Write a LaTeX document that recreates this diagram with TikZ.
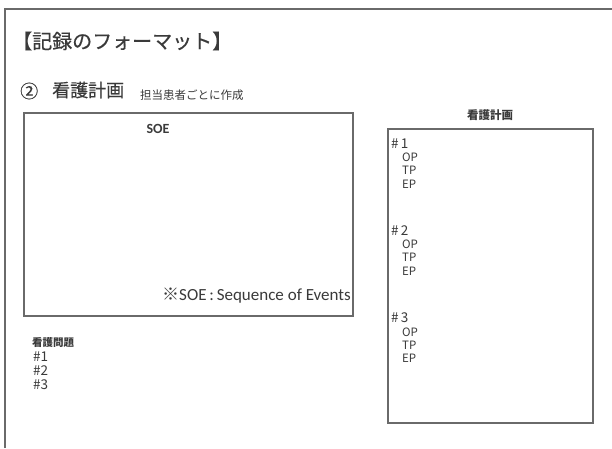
\documentclass[tikz,border=0pt]{standalone}
\usepackage{fontspec}
\setmainfont{Carlito}
\newfontfamily\jp{Noto Sans CJK JP}
\newfontfamily\jpheavy[FakeBold=0.5]{Noto Sans CJK JP}
\definecolor{txt}{HTML}{3A3A3A}
\definecolor{frm}{HTML}{6A6A6A}
\begin{document}
\begin{tikzpicture}[x=1pt,y=-1pt,
  boxline/.style={draw=frm,line width=1.4pt},
  lbl/.style={inner sep=0pt,text=txt,anchor=west,font=\jp\fontsize{13.5}{14}\selectfont},
  sub/.style={inner sep=0pt,text=txt,anchor=west,font=\jp\fontsize{11.5}{12}\selectfont}]
\useasboundingbox (0,0) rectangle (612,448);
\fill[white] (0,0) rectangle (612,448);
% outer frame (cropped)
\coordinate (fb) at (5,448);
\coordinate (ftl) at (5,9);
\coordinate (ftr) at (612,9);
\draw[frm,line width=1.3pt] (fb) -- (ftl) -- (ftr);
% title
\node[inner sep=0pt,anchor=west,text=txt,font=\jpheavy\fontsize{20}{24}\selectfont] (title) at (12,41) {【記録のフォーマット】};
\node[inner sep=0pt,anchor=west,text=txt,font=\jpheavy\fontsize{18}{20}\selectfont] (num) at (20,91) {②};
\node[inner sep=0pt,anchor=west,text=txt,font=\jpheavy\fontsize{18}{20}\selectfont] (plan) at (52,90) {看護計画};
\node[inner sep=0pt,anchor=west,text=txt,font=\jp\fontsize{11.5}{12}\selectfont] (note) at (140,95) {担当患者ごとに作成};
% SOE box
\node[boxline,minimum width=329pt,minimum height=203pt,inner sep=0pt] (soe) at (188.5,214.5) {};
\node[inner sep=0pt,text=txt,font=\bfseries\fontsize{14}{16}\selectfont] (soet) at (158,129) {SOE};
\node[inner sep=0pt,anchor=east,text=txt,font=\fontsize{17}{19}\selectfont] (soen) at (351,296) {{\jp ※}SOE\,:\,Sequence of Events};
% problems
\node[inner sep=0pt,anchor=west,text=txt,font=\jp\bfseries\fontsize{10.5}{11}\selectfont] (prob) at (32,343) {看護問題};
\node[lbl] (p1) at (33,357) {\#1};
\node[lbl] (p2) at (33,371) {\#2};
\node[lbl] (p3) at (33,385) {\#3};
% plan box
\node[inner sep=0pt,text=txt,font=\jp\bfseries\fontsize{11.5}{12}\selectfont] (plt) at (490,115) {看護計画};
\node[boxline,minimum width=205pt,minimum height=294pt,inner sep=0pt] (planbox) at (490.5,276) {};
\node[lbl] (h1) at (391,144) {\#\,1};
\node[sub] (o1) at (402,157) {OP};
\node[sub] (t1) at (402,170) {TP};
\node[sub] (e1) at (402,184) {EP};
\node[lbl] (h2) at (391,231) {\#\,2};
\node[sub] (o2) at (402,244) {OP};
\node[sub] (t2) at (402,257) {TP};
\node[sub] (e2) at (402,271) {EP};
\node[lbl] (h3) at (391,318) {\#\,3};
\node[sub] (o3) at (402,332) {OP};
\node[sub] (t3) at (402,345) {TP};
\node[sub] (e3) at (402,358) {EP};
\end{tikzpicture}
\end{document}
